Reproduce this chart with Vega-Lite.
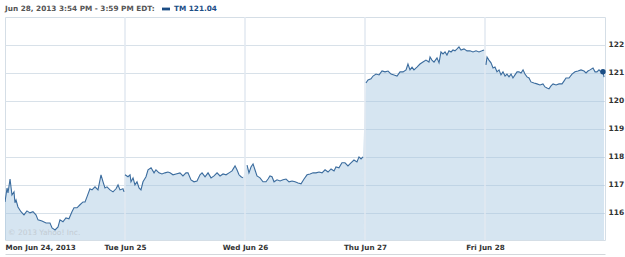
{
  "$schema": "https://vega.github.io/schema/vega-lite/v6.json",
  "width": 600,
  "height": 223,
  "autosize": {"type": "none"},
  "padding": {"top": 17, "left": 5, "right": 20, "bottom": 17},
  "background": "white",
  "config": {
    "font": "DejaVu Sans",
    "view": {"stroke": "#d5dee6", "strokeWidth": 1},
    "axisX": {
      "title": null,
      "grid": false,
      "ticks": false,
      "tickSize": 0,
      "domain": true,
      "domainColor": "#d3d7db",
      "domainWidth": 1,
      "offset": 14,
      "labelPadding": -11,
      "labelFlush": true,
      "labelOverlap": false,
      "labelFont": "DejaVu Sans",
      "labelFontSize": 7.2,
      "labelFontWeight": "bold",
      "labelColor": "#333333"
    },
    "axisY": {
      "title": null,
      "grid": true,
      "gridColor": "#d8e1e9",
      "gridWidth": 1,
      "ticks": false,
      "domain": false,
      "labelOverlap": false,
      "labelPadding": 3,
      "labelFont": "DejaVu Sans",
      "labelFontSize": 7.5,
      "labelFontWeight": "bold",
      "labelColor": "#333333"
    }
  },
  "datasets": {
    "prices": [
      {"day": "Mon", "t": 0.0, "price": 116.39},
      {"day": "Mon", "t": 0.017, "price": 116.89},
      {"day": "Mon", "t": 0.025, "price": 116.71},
      {"day": "Mon", "t": 0.042, "price": 117.21},
      {"day": "Mon", "t": 0.058, "price": 116.64},
      {"day": "Mon", "t": 0.075, "price": 116.75},
      {"day": "Mon", "t": 0.083, "price": 116.36},
      {"day": "Mon", "t": 0.092, "price": 116.46},
      {"day": "Mon", "t": 0.108, "price": 116.21},
      {"day": "Mon", "t": 0.133, "price": 116.04},
      {"day": "Mon", "t": 0.158, "price": 115.93},
      {"day": "Mon", "t": 0.183, "price": 116.07},
      {"day": "Mon", "t": 0.208, "price": 116.0},
      {"day": "Mon", "t": 0.233, "price": 116.04},
      {"day": "Mon", "t": 0.258, "price": 115.93},
      {"day": "Mon", "t": 0.275, "price": 115.75},
      {"day": "Mon", "t": 0.308, "price": 115.71},
      {"day": "Mon", "t": 0.342, "price": 115.64},
      {"day": "Mon", "t": 0.375, "price": 115.64},
      {"day": "Mon", "t": 0.392, "price": 115.46},
      {"day": "Mon", "t": 0.417, "price": 115.39},
      {"day": "Mon", "t": 0.442, "price": 115.5},
      {"day": "Mon", "t": 0.458, "price": 115.75},
      {"day": "Mon", "t": 0.483, "price": 115.68},
      {"day": "Mon", "t": 0.508, "price": 115.82},
      {"day": "Mon", "t": 0.533, "price": 115.79},
      {"day": "Mon", "t": 0.558, "price": 116.04},
      {"day": "Mon", "t": 0.575, "price": 116.18},
      {"day": "Mon", "t": 0.6, "price": 116.18},
      {"day": "Mon", "t": 0.625, "price": 116.29},
      {"day": "Mon", "t": 0.65, "price": 116.39},
      {"day": "Mon", "t": 0.667, "price": 116.39},
      {"day": "Mon", "t": 0.683, "price": 116.57},
      {"day": "Mon", "t": 0.708, "price": 116.86},
      {"day": "Mon", "t": 0.725, "price": 116.82},
      {"day": "Mon", "t": 0.75, "price": 116.93},
      {"day": "Mon", "t": 0.775, "price": 116.82},
      {"day": "Mon", "t": 0.8, "price": 117.36},
      {"day": "Mon", "t": 0.817, "price": 117.11},
      {"day": "Mon", "t": 0.833, "price": 116.89},
      {"day": "Mon", "t": 0.85, "price": 116.93},
      {"day": "Mon", "t": 0.875, "price": 116.82},
      {"day": "Mon", "t": 0.9, "price": 116.75},
      {"day": "Mon", "t": 0.925, "price": 116.86},
      {"day": "Mon", "t": 0.942, "price": 117.0},
      {"day": "Mon", "t": 0.958, "price": 116.82},
      {"day": "Mon", "t": 0.983, "price": 116.86},
      {"day": "Mon", "t": 0.992, "price": 116.75},
      {"day": "Tue", "t": 1.0, "price": 117.36},
      {"day": "Tue", "t": 1.025, "price": 117.29},
      {"day": "Tue", "t": 1.042, "price": 117.36},
      {"day": "Tue", "t": 1.05, "price": 117.11},
      {"day": "Tue", "t": 1.067, "price": 117.25},
      {"day": "Tue", "t": 1.083, "price": 117.0},
      {"day": "Tue", "t": 1.1, "price": 117.11},
      {"day": "Tue", "t": 1.117, "price": 116.89},
      {"day": "Tue", "t": 1.133, "price": 116.82},
      {"day": "Tue", "t": 1.15, "price": 117.11},
      {"day": "Tue", "t": 1.175, "price": 117.29},
      {"day": "Tue", "t": 1.192, "price": 117.54},
      {"day": "Tue", "t": 1.217, "price": 117.61},
      {"day": "Tue", "t": 1.242, "price": 117.43},
      {"day": "Tue", "t": 1.258, "price": 117.54},
      {"day": "Tue", "t": 1.283, "price": 117.43},
      {"day": "Tue", "t": 1.308, "price": 117.39},
      {"day": "Tue", "t": 1.333, "price": 117.43},
      {"day": "Tue", "t": 1.358, "price": 117.46},
      {"day": "Tue", "t": 1.375, "price": 117.43},
      {"day": "Tue", "t": 1.4, "price": 117.36},
      {"day": "Tue", "t": 1.425, "price": 117.39},
      {"day": "Tue", "t": 1.458, "price": 117.43},
      {"day": "Tue", "t": 1.483, "price": 117.32},
      {"day": "Tue", "t": 1.508, "price": 117.43},
      {"day": "Tue", "t": 1.525, "price": 117.43},
      {"day": "Tue", "t": 1.55, "price": 117.18},
      {"day": "Tue", "t": 1.575, "price": 117.11},
      {"day": "Tue", "t": 1.6, "price": 117.14},
      {"day": "Tue", "t": 1.625, "price": 117.36},
      {"day": "Tue", "t": 1.642, "price": 117.43},
      {"day": "Tue", "t": 1.667, "price": 117.29},
      {"day": "Tue", "t": 1.692, "price": 117.43},
      {"day": "Tue", "t": 1.717, "price": 117.25},
      {"day": "Tue", "t": 1.742, "price": 117.32},
      {"day": "Tue", "t": 1.767, "price": 117.43},
      {"day": "Tue", "t": 1.792, "price": 117.32},
      {"day": "Tue", "t": 1.817, "price": 117.39},
      {"day": "Tue", "t": 1.842, "price": 117.36},
      {"day": "Tue", "t": 1.867, "price": 117.43},
      {"day": "Tue", "t": 1.892, "price": 117.5},
      {"day": "Tue", "t": 1.917, "price": 117.68},
      {"day": "Tue", "t": 1.933, "price": 117.54},
      {"day": "Tue", "t": 1.95, "price": 117.36},
      {"day": "Tue", "t": 1.967, "price": 117.29},
      {"day": "Tue", "t": 1.983, "price": 117.25},
      {"day": "Wed", "t": 2.017, "price": 117.71},
      {"day": "Wed", "t": 2.033, "price": 117.43},
      {"day": "Wed", "t": 2.05, "price": 117.64},
      {"day": "Wed", "t": 2.067, "price": 117.75},
      {"day": "Wed", "t": 2.083, "price": 117.54},
      {"day": "Wed", "t": 2.1, "price": 117.32},
      {"day": "Wed", "t": 2.125, "price": 117.25},
      {"day": "Wed", "t": 2.15, "price": 117.11},
      {"day": "Wed", "t": 2.175, "price": 117.11},
      {"day": "Wed", "t": 2.192, "price": 117.21},
      {"day": "Wed", "t": 2.208, "price": 117.32},
      {"day": "Wed", "t": 2.225, "price": 117.29},
      {"day": "Wed", "t": 2.242, "price": 117.11},
      {"day": "Wed", "t": 2.267, "price": 117.18},
      {"day": "Wed", "t": 2.292, "price": 117.14},
      {"day": "Wed", "t": 2.317, "price": 117.18},
      {"day": "Wed", "t": 2.342, "price": 117.21},
      {"day": "Wed", "t": 2.367, "price": 117.11},
      {"day": "Wed", "t": 2.392, "price": 117.14},
      {"day": "Wed", "t": 2.417, "price": 117.11},
      {"day": "Wed", "t": 2.442, "price": 117.07},
      {"day": "Wed", "t": 2.467, "price": 117.04},
      {"day": "Wed", "t": 2.492, "price": 117.21},
      {"day": "Wed", "t": 2.517, "price": 117.36},
      {"day": "Wed", "t": 2.542, "price": 117.39},
      {"day": "Wed", "t": 2.567, "price": 117.43},
      {"day": "Wed", "t": 2.592, "price": 117.43},
      {"day": "Wed", "t": 2.617, "price": 117.46},
      {"day": "Wed", "t": 2.642, "price": 117.43},
      {"day": "Wed", "t": 2.667, "price": 117.54},
      {"day": "Wed", "t": 2.692, "price": 117.46},
      {"day": "Wed", "t": 2.717, "price": 117.57},
      {"day": "Wed", "t": 2.742, "price": 117.5},
      {"day": "Wed", "t": 2.758, "price": 117.64},
      {"day": "Wed", "t": 2.783, "price": 117.61},
      {"day": "Wed", "t": 2.808, "price": 117.79},
      {"day": "Wed", "t": 2.833, "price": 117.79},
      {"day": "Wed", "t": 2.858, "price": 117.68},
      {"day": "Wed", "t": 2.883, "price": 117.79},
      {"day": "Wed", "t": 2.908, "price": 117.89},
      {"day": "Wed", "t": 2.933, "price": 117.82},
      {"day": "Wed", "t": 2.95, "price": 118.0},
      {"day": "Wed", "t": 2.967, "price": 117.93},
      {"day": "Wed", "t": 2.983, "price": 118.0},
      {"day": "Thu", "t": 3.008, "price": 120.64},
      {"day": "Thu", "t": 3.025, "price": 120.75},
      {"day": "Thu", "t": 3.05, "price": 120.79},
      {"day": "Thu", "t": 3.067, "price": 120.89},
      {"day": "Thu", "t": 3.092, "price": 120.96},
      {"day": "Thu", "t": 3.117, "price": 120.93},
      {"day": "Thu", "t": 3.142, "price": 121.07},
      {"day": "Thu", "t": 3.167, "price": 121.04},
      {"day": "Thu", "t": 3.192, "price": 121.07},
      {"day": "Thu", "t": 3.217, "price": 120.96},
      {"day": "Thu", "t": 3.242, "price": 120.93},
      {"day": "Thu", "t": 3.267, "price": 120.89},
      {"day": "Thu", "t": 3.292, "price": 121.04},
      {"day": "Thu", "t": 3.317, "price": 121.04},
      {"day": "Thu", "t": 3.342, "price": 121.11},
      {"day": "Thu", "t": 3.358, "price": 121.32},
      {"day": "Thu", "t": 3.375, "price": 121.11},
      {"day": "Thu", "t": 3.392, "price": 121.21},
      {"day": "Thu", "t": 3.408, "price": 121.11},
      {"day": "Thu", "t": 3.433, "price": 121.21},
      {"day": "Thu", "t": 3.458, "price": 121.32},
      {"day": "Thu", "t": 3.483, "price": 121.39},
      {"day": "Thu", "t": 3.508, "price": 121.46},
      {"day": "Thu", "t": 3.533, "price": 121.39},
      {"day": "Thu", "t": 3.542, "price": 121.57},
      {"day": "Thu", "t": 3.558, "price": 121.46},
      {"day": "Thu", "t": 3.575, "price": 121.39},
      {"day": "Thu", "t": 3.6, "price": 121.54},
      {"day": "Thu", "t": 3.617, "price": 121.36},
      {"day": "Thu", "t": 3.633, "price": 121.75},
      {"day": "Thu", "t": 3.65, "price": 121.68},
      {"day": "Thu", "t": 3.667, "price": 121.75},
      {"day": "Thu", "t": 3.683, "price": 121.64},
      {"day": "Thu", "t": 3.7, "price": 121.79},
      {"day": "Thu", "t": 3.717, "price": 121.75},
      {"day": "Thu", "t": 3.733, "price": 121.82},
      {"day": "Thu", "t": 3.75, "price": 121.79},
      {"day": "Thu", "t": 3.767, "price": 121.86},
      {"day": "Thu", "t": 3.783, "price": 121.93},
      {"day": "Thu", "t": 3.8, "price": 121.82},
      {"day": "Thu", "t": 3.825, "price": 121.86},
      {"day": "Thu", "t": 3.85, "price": 121.79},
      {"day": "Thu", "t": 3.875, "price": 121.79},
      {"day": "Thu", "t": 3.9, "price": 121.75},
      {"day": "Thu", "t": 3.925, "price": 121.79},
      {"day": "Thu", "t": 3.95, "price": 121.75},
      {"day": "Thu", "t": 3.975, "price": 121.79},
      {"day": "Thu", "t": 3.992, "price": 121.82},
      {"day": "Fri", "t": 4.008, "price": 121.29},
      {"day": "Fri", "t": 4.017, "price": 121.57},
      {"day": "Fri", "t": 4.033, "price": 121.46},
      {"day": "Fri", "t": 4.05, "price": 121.36},
      {"day": "Fri", "t": 4.067, "price": 121.18},
      {"day": "Fri", "t": 4.083, "price": 121.21},
      {"day": "Fri", "t": 4.1, "price": 121.04},
      {"day": "Fri", "t": 4.117, "price": 121.11},
      {"day": "Fri", "t": 4.133, "price": 120.93},
      {"day": "Fri", "t": 4.15, "price": 121.04},
      {"day": "Fri", "t": 4.167, "price": 120.89},
      {"day": "Fri", "t": 4.183, "price": 120.96},
      {"day": "Fri", "t": 4.2, "price": 120.86},
      {"day": "Fri", "t": 4.217, "price": 120.96},
      {"day": "Fri", "t": 4.233, "price": 120.82},
      {"day": "Fri", "t": 4.25, "price": 120.93},
      {"day": "Fri", "t": 4.267, "price": 121.04},
      {"day": "Fri", "t": 4.283, "price": 121.04},
      {"day": "Fri", "t": 4.3, "price": 121.0},
      {"day": "Fri", "t": 4.317, "price": 121.11},
      {"day": "Fri", "t": 4.333, "price": 120.96},
      {"day": "Fri", "t": 4.35, "price": 120.86},
      {"day": "Fri", "t": 4.367, "price": 120.82},
      {"day": "Fri", "t": 4.383, "price": 120.68},
      {"day": "Fri", "t": 4.408, "price": 120.64},
      {"day": "Fri", "t": 4.433, "price": 120.61},
      {"day": "Fri", "t": 4.458, "price": 120.57},
      {"day": "Fri", "t": 4.483, "price": 120.61},
      {"day": "Fri", "t": 4.5, "price": 120.5},
      {"day": "Fri", "t": 4.517, "price": 120.46},
      {"day": "Fri", "t": 4.533, "price": 120.43},
      {"day": "Fri", "t": 4.55, "price": 120.54},
      {"day": "Fri", "t": 4.567, "price": 120.61},
      {"day": "Fri", "t": 4.592, "price": 120.57},
      {"day": "Fri", "t": 4.617, "price": 120.61},
      {"day": "Fri", "t": 4.642, "price": 120.61},
      {"day": "Fri", "t": 4.658, "price": 120.71},
      {"day": "Fri", "t": 4.675, "price": 120.82},
      {"day": "Fri", "t": 4.7, "price": 120.82},
      {"day": "Fri", "t": 4.725, "price": 120.96},
      {"day": "Fri", "t": 4.75, "price": 121.04},
      {"day": "Fri", "t": 4.775, "price": 121.07},
      {"day": "Fri", "t": 4.8, "price": 121.11},
      {"day": "Fri", "t": 4.825, "price": 121.07},
      {"day": "Fri", "t": 4.842, "price": 121.0},
      {"day": "Fri", "t": 4.858, "price": 121.07},
      {"day": "Fri", "t": 4.875, "price": 121.11},
      {"day": "Fri", "t": 4.9, "price": 121.18},
      {"day": "Fri", "t": 4.917, "price": 121.04},
      {"day": "Fri", "t": 4.933, "price": 121.04},
      {"day": "Fri", "t": 4.95, "price": 121.11},
      {"day": "Fri", "t": 4.967, "price": 121.04},
      {"day": "Fri", "t": 4.983, "price": 121.04},
      {"day": "Fri", "t": 4.992, "price": 120.85}
    ],
    "last": [
      {"t": 4.983, "price": 121.04, "series": "TM 121.04"}
    ],
    "days": [
      {"t": 1}, {"t": 2}, {"t": 3}, {"t": 4}
    ],
    "note": [
      {"t": 0.025, "price": 115.13, "text": "© 2013 Yahoo! Inc."}
    ]
  },
  "layer": [
    {
      "data": {"name": "prices"},
      "mark": {"type": "area", "color": "#a4c6e0", "opacity": 0.45, "clip": true},
      "encoding": {
        "x": {
          "field": "t", "type": "quantitative",
          "scale": {"domain": [0, 5], "nice": false, "zero": false},
          "axis": {"values": [0, 1, 2, 3, 4], "labelExpr": "['Mon Jun 24, 2013','Tue Jun 25','Wed Jun 26','Thu Jun 27','Fri Jun 28'][datum.value]"}
        },
        "y": {
          "field": "price", "type": "quantitative",
          "scale": {"domain": [115.03, 123], "nice": false, "zero": false},
          "axis": {"orient": "right", "values": [116, 117, 118, 119, 120, 121, 122]}
        },
        "detail": {"field": "day"}
      }
    },
    {
      "data": {"name": "days"},
      "mark": {"type": "rule", "color": "#e2e9f0", "strokeWidth": 1.5},
      "encoding": {
        "x": {
          "field": "t", "type": "quantitative",
          "axis": {"values": [0, 1, 2, 3, 4], "labelExpr": "['Mon Jun 24, 2013','Tue Jun 25','Wed Jun 26','Thu Jun 27','Fri Jun 28'][datum.value]"}
        }
      }
    },
    {
      "data": {"name": "note"},
      "mark": {"type": "text", "align": "left", "baseline": "bottom", "fontSize": 7.5, "color": "#c3ccd4", "font": "DejaVu Sans"},
      "encoding": {
        "x": {
          "field": "t", "type": "quantitative",
          "axis": {"values": [0, 1, 2, 3, 4], "labelExpr": "['Mon Jun 24, 2013','Tue Jun 25','Wed Jun 26','Thu Jun 27','Fri Jun 28'][datum.value]"}
        },
        "y": {
          "field": "price", "type": "quantitative",
          "axis": {"orient": "right", "values": [116, 117, 118, 119, 120, 121, 122]}
        },
        "text": {"field": "text"}
      }
    },
    {
      "data": {"name": "prices"},
      "mark": {"type": "line", "color": "#3b6c9e", "strokeWidth": 1.1, "clip": true},
      "encoding": {
        "x": {
          "field": "t", "type": "quantitative",
          "axis": {"values": [0, 1, 2, 3, 4], "labelExpr": "['Mon Jun 24, 2013','Tue Jun 25','Wed Jun 26','Thu Jun 27','Fri Jun 28'][datum.value]"}
        },
        "y": {
          "field": "price", "type": "quantitative",
          "axis": {"orient": "right", "values": [116, 117, 118, 119, 120, 121, 122]}
        },
        "detail": {"field": "day"}
      }
    },
    {
      "data": {"name": "last"},
      "mark": {"type": "point", "filled": true, "opacity": 1, "size": 30},
      "encoding": {
        "x": {
          "field": "t", "type": "quantitative",
          "axis": {"values": [0, 1, 2, 3, 4], "labelExpr": "['Mon Jun 24, 2013','Tue Jun 25','Wed Jun 26','Thu Jun 27','Fri Jun 28'][datum.value]"}
        },
        "y": {
          "field": "price", "type": "quantitative",
          "axis": {"orient": "right", "values": [116, 117, 118, 119, 120, 121, 122]}
        },
        "color": {
          "field": "series", "type": "nominal",
          "scale": {"domain": ["TM 121.04"], "range": ["#1b4d85"]},
          "legend": {
            "orient": "top",
            "direction": "horizontal",
            "title": "Jun 28, 2013 3:54 PM - 3:59 PM EDT:",
            "titleOrient": "left",
            "titleFont": "DejaVu Sans",
            "titleFontSize": 7.3,
            "titleFontWeight": "bold",
            "titleColor": "#555555",
            "titlePadding": 7,
            "labelFont": "DejaVu Sans",
            "labelFontSize": 7.3,
            "labelFontWeight": "bold",
            "labelColor": "#1b4d85",
            "labelOffset": 4,
            "symbolType": "M-1,-0.35H1V0.35H-1Z",
            "symbolSize": 64,
            "symbolStrokeWidth": 0,
            "offset": 4,
            "padding": 0
          }
        }
      }
    }
  ]
}
